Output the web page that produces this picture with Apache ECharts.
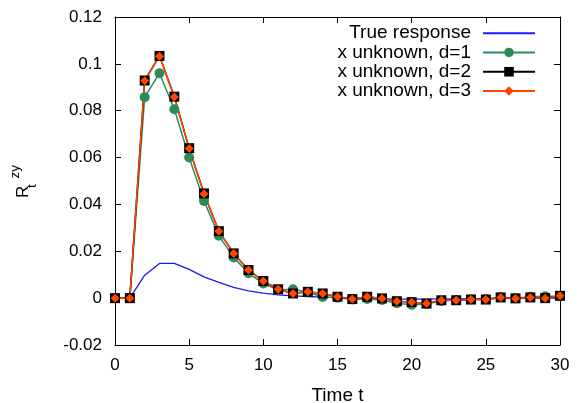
<!DOCTYPE html>
<html>
<head>
<meta charset="utf-8">
<script src="https://cdn.jsdelivr.net/npm/echarts@6/dist/echarts.min.js"></script>
<style>html,body{margin:0;padding:0;background:#fff}#c{width:580px;height:403px}</style>
</head>
<body>
<div id="c"></div>
<script>
const timeT = [0,1,2,3,4,5,6,7,8,9,10,11,12,13,14,15,16,17,18,19,20,21,22,23,24,25,26,27,28,29,30];
const trueResp = [0, 0, 0.0098, 0.0148, 0.0148, 0.0123, 0.0091, 0.0067, 0.0046, 0.0031, 0.0021, 0.0014, 0.001, 0.0007, 0.0004, 0.0002, 0.0, -0.0002, -0.0003, -0.0004, -0.0004, -0.0004, -0.0003, -0.0003, -0.0002, -0.0002, -0.0001, -0.0001, 0, 0, 0];
const d1 = [0, 0, 0.0858, 0.096, 0.0806, 0.060, 0.0415, 0.0266, 0.0174, 0.0106, 0.0063, 0.0035, 0.0038, 0.0025, 0.0005, 0.0002, -0.0006, -0.0004, -0.0008, -0.0022, -0.0028, -0.0025, -0.0012, -0.0008, -0.0005, -0.0004, 0.0004, 0, 0.0006, 0.0008, 0.0008];
const d2 = [0, 0, 0.0929, 0.1034, 0.086, 0.064, 0.0447, 0.0286, 0.0191, 0.012, 0.0073, 0.0038, 0.002, 0.0027, 0.002, 0.0006, -0.0004, 0.0006, -0.0001, -0.0013, -0.0017, -0.0023, -0.0009, -0.0009, -0.0006, -0.0006, 0.0003, -0.0001, 0.0003, 0, 0.001];
const d3 = [0, 0, 0.0928, 0.1033, 0.0859, 0.0639, 0.0446, 0.0286, 0.0191, 0.012, 0.0073, 0.0038, 0.002, 0.0027, 0.002, 0.0006, -0.0004, 0.0006, -0.0001, -0.0013, -0.0017, -0.0023, -0.0009, -0.0009, -0.0006, -0.0006, 0.0003, -0.0001, 0.0003, 0, 0.001];
const seriesNames = ['True response', 'x unknown, d=1', 'x unknown, d=2', 'x unknown, d=3'];
const xTicks = {min: 0, max: 30, interval: 5};
const yTicks = {min: -0.02, max: 0.12, interval: 0.02};

const pair = arr => timeT.map((t, i) => [t, arr[i]]);
const FONT = 'Liberation Sans';
const axisCommon = {
  axisLine: {show: true, onZero: false, lineStyle: {color: '#000', width: 1}},
  axisTick: {show: true, inside: true, length: 6, lineStyle: {color: '#000', width: 1}},
  splitLine: {show: false}
};
const chart = echarts.init(document.getElementById('c'));
chart.setOption({
  animation: false,
  backgroundColor: '#fff',
  grid: {left: 115, right: 20, top: 17, bottom: 58, containLabel: false, outerBoundsMode: 'none'},
  xAxis: [
    Object.assign({type: 'value', min: xTicks.min, max: xTicks.max, interval: xTicks.interval,
      name: 'Time t', nameLocation: 'middle', nameGap: 41,
      nameTextStyle: {fontFamily: FONT, fontSize: 19, color: '#000'},
      axisLabel: {fontFamily: FONT, fontSize: 17, color: '#000', margin: 12}}, axisCommon),
    Object.assign({type: 'value', position: 'top', min: xTicks.min, max: xTicks.max, interval: xTicks.interval,
      axisLabel: {show: false}}, axisCommon)
  ],
  yAxis: [
    Object.assign({type: 'value', min: yTicks.min, max: yTicks.max, interval: yTicks.interval,
      axisLabel: {fontFamily: FONT, fontSize: 17, color: '#000', margin: 13}}, axisCommon),
    Object.assign({type: 'value', position: 'right', min: yTicks.min, max: yTicks.max, interval: yTicks.interval,
      axisLabel: {show: false}}, axisCommon)
  ],
  legend: {
    orient: 'vertical', right: 44, top: 23.5, align: 'right', padding: 0,
    itemWidth: 52, itemHeight: 12, itemGap: 0,
    textStyle: {fontFamily: FONT, fontSize: 19, color: '#000', lineHeight: 19.3, padding: [0, 7, 0, 0]},
    data: [
      {name: seriesNames[0], itemStyle: {opacity: 0}},
      seriesNames[1], seriesNames[2], seriesNames[3]
    ]
  },
  graphic: [{
    type: 'group', x: 29, y: 198, rotation: Math.PI / 2,
    children: [
      {type: 'text', x: 0, y: -6, style: {text: 'R', fontFamily: FONT, fontSize: 17, fill: '#000', verticalAlign: 'middle', align: 'left'}},
      {type: 'text', x: 10, y: 3, style: {text: 't', fontFamily: FONT, fontSize: 13.5, fill: '#000', verticalAlign: 'middle', align: 'left'}},
      {type: 'text', x: 19.5, y: -14, style: {text: 'zy', fontFamily: FONT, fontSize: 13.5, fill: '#000', verticalAlign: 'middle', align: 'left'}}
    ]
  }],
  series: [
    {name: seriesNames[0], type: 'line', data: pair(trueResp), symbol: 'none',
      lineStyle: {color: '#1a1aff', width: 1.3}, itemStyle: {color: '#1a1aff'}},
    {name: seriesNames[1], type: 'line', data: pair(d1), symbol: 'circle', symbolSize: 10,
      lineStyle: {color: '#2e8b57', width: 1.5}, itemStyle: {color: '#2e8b57'}},
    {name: seriesNames[2], type: 'line', data: pair(d2), symbol: 'rect', symbolSize: 10,
      lineStyle: {color: '#000', width: 1.5}, itemStyle: {color: '#000'}},
    {name: seriesNames[3], type: 'line', data: pair(d3), symbol: 'diamond', symbolSize: 9,
      lineStyle: {color: '#ff4500', width: 1.5}, itemStyle: {color: '#ff4500'}}
  ]
});
</script>
</body>
</html>
